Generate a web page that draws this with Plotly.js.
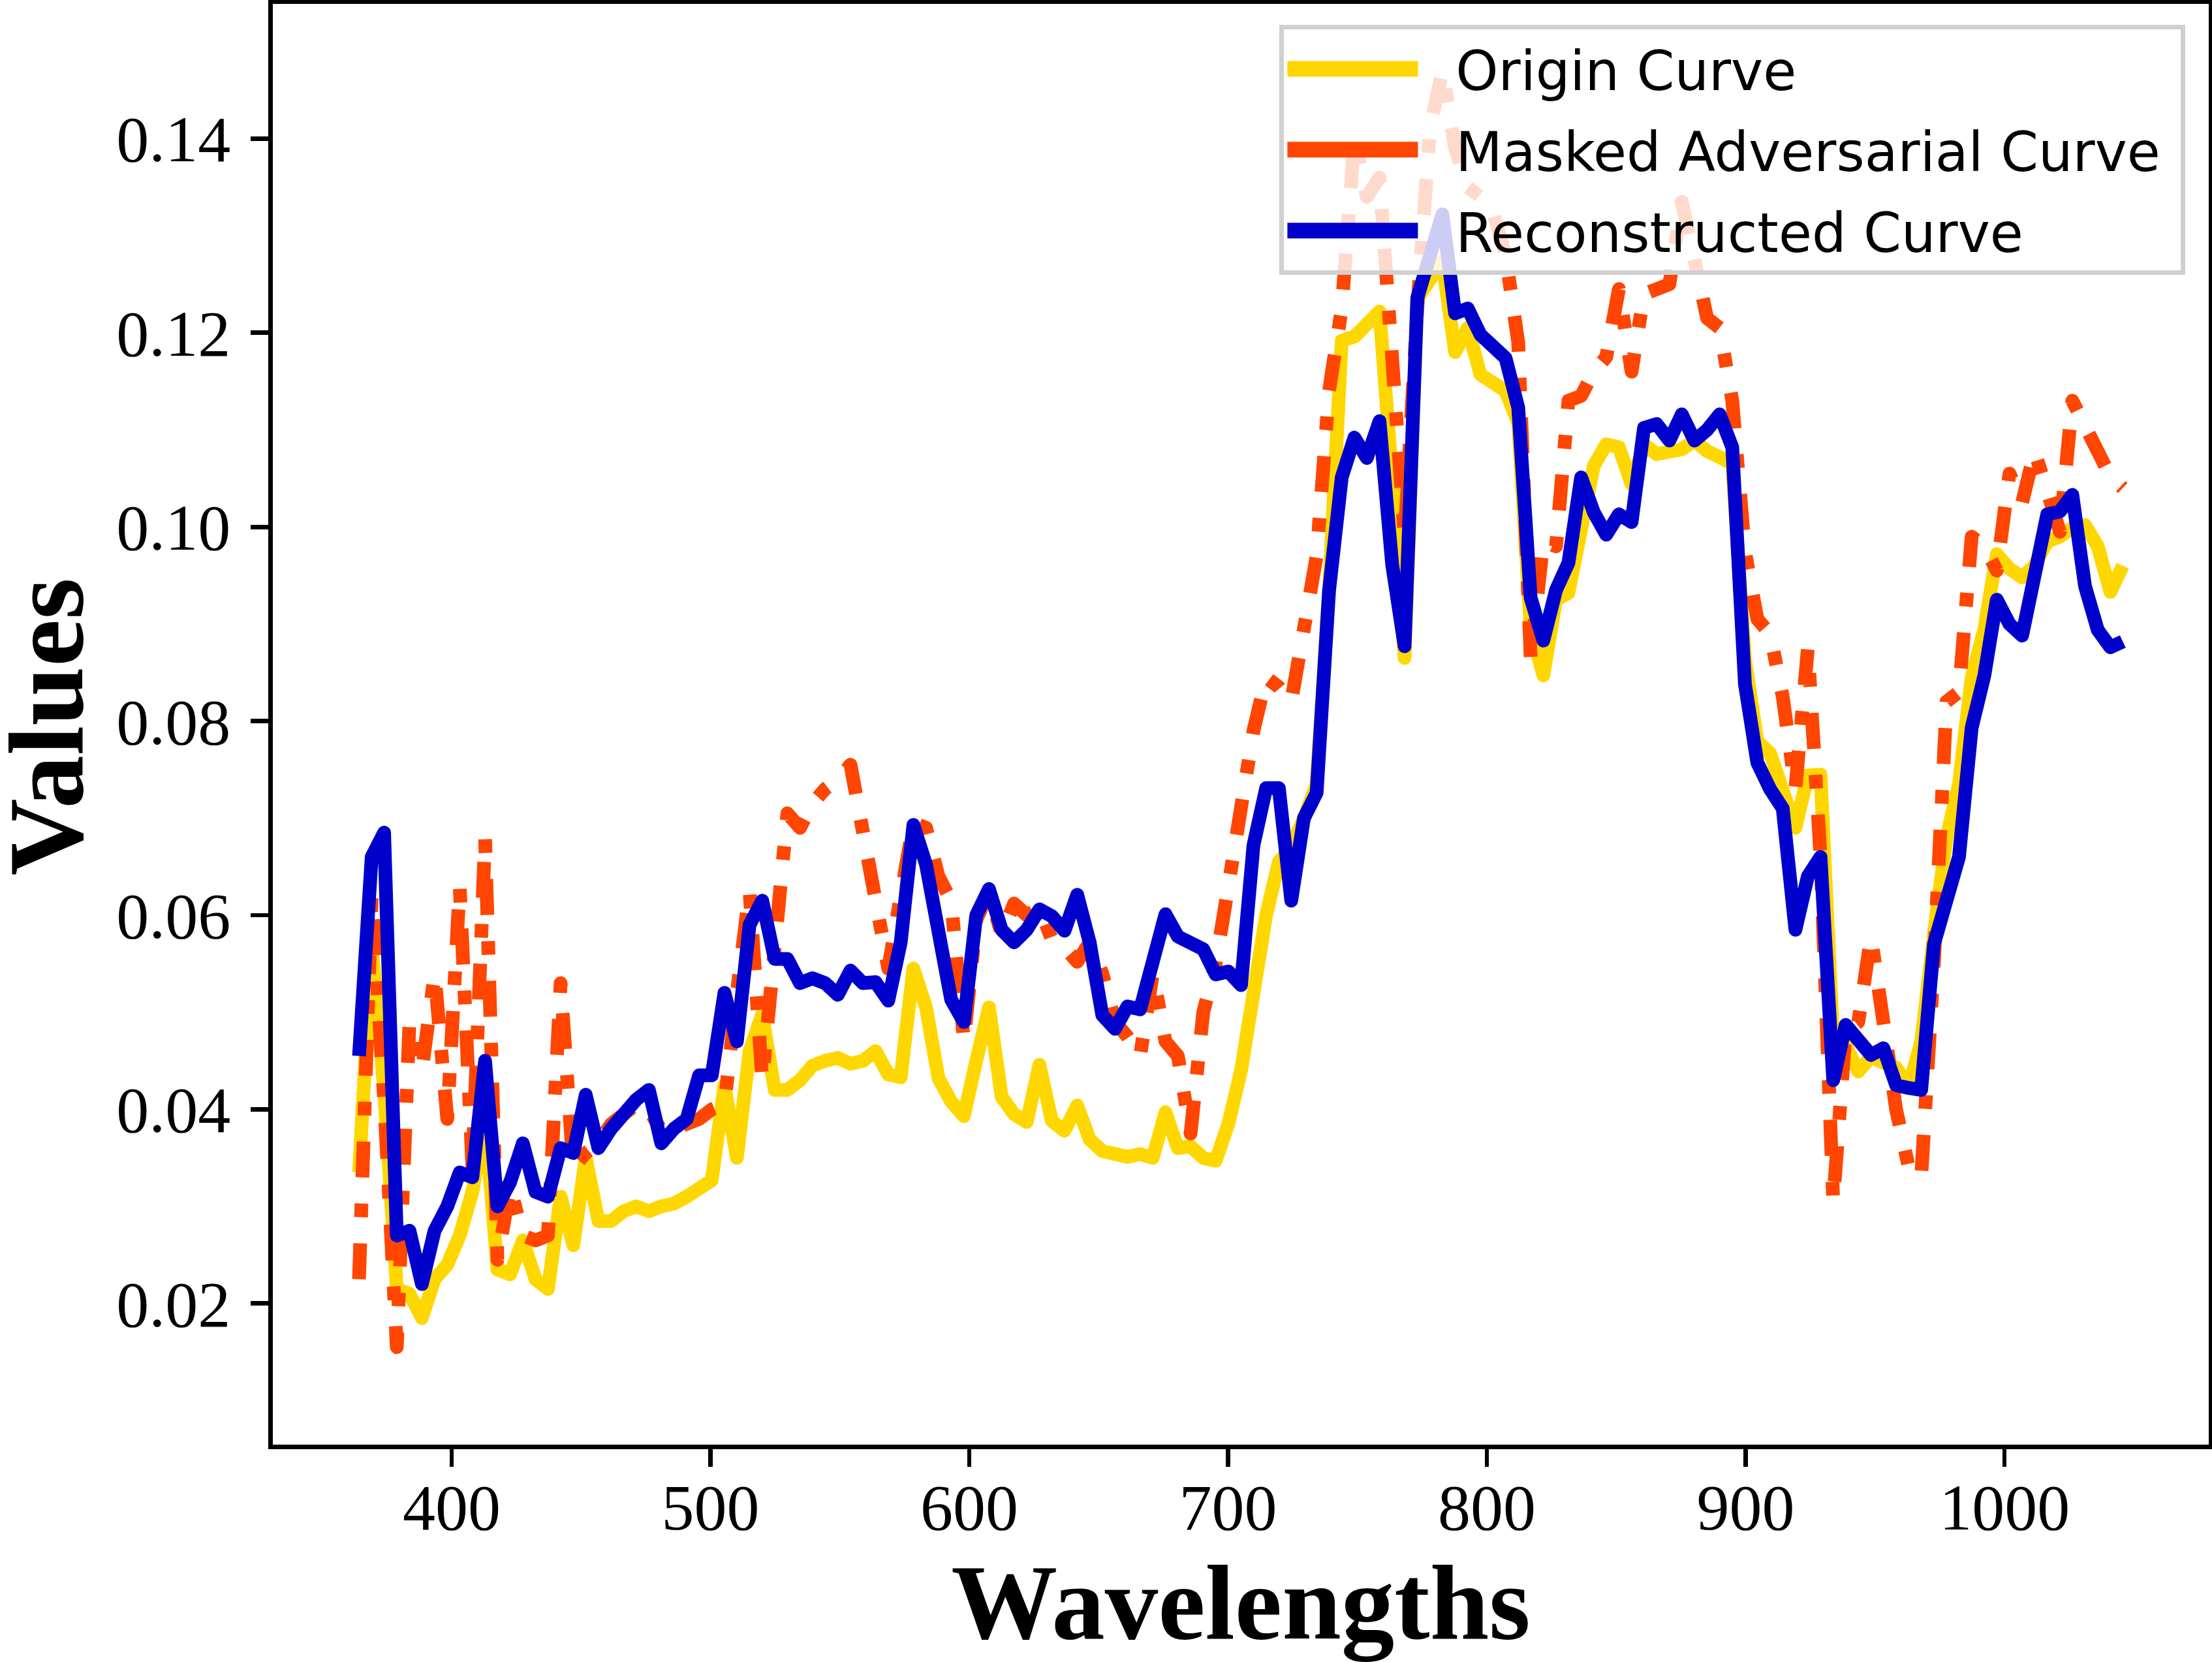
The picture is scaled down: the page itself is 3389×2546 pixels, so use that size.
<!DOCTYPE html>
<html>
<head>
<meta charset="utf-8">
<script src="https://cdn.plot.ly/plotly-3.0.1.min.js"></script>
<style>
html,body{margin:0;padding:0;background:#ffffff;}
#chart{width:3389px;height:2546px;}
.scatterlayer path.js-line{stroke-linejoin:round;}
.legend .legendlines path.js-line{stroke-width:24px !important;}
</style>
</head>
<body>
<div id="chart"></div>
<script>
const wavelengths = [364.2,369.1,373.9,378.8,383.7,388.5,393.4,398.3,403.1,408.0,
412.9,417.7,422.6,427.5,432.4,437.2,442.1,447.0,451.8,456.7,
461.6,466.4,471.3,476.2,481.0,485.9,490.8,495.6,500.5,505.4,
510.2,515.1,520.0,524.8,529.7,534.6,539.4,544.3,549.2,554.1,
558.9,563.8,568.7,573.5,578.4,583.3,588.1,593.0,597.9,602.7,
607.6,612.5,617.3,622.2,627.1,631.9,636.8,641.7,646.5,651.4,
656.3,661.1,666.0,670.9,675.8,680.6,685.5,690.4,695.2,700.1,
705.0,709.8,714.7,719.6,724.4,729.3,734.2,739.0,743.9,748.8,
753.6,758.5,763.4,768.2,773.1,778.0,782.8,787.7,792.6,797.5,
802.3,807.2,812.1,816.9,821.8,826.7,831.5,836.4,841.3,846.1,
851.0,855.9,860.7,865.6,870.5,875.3,880.2,885.1,889.9,894.8,
899.7,904.5,909.4,914.3,919.2,924.0,928.9,933.8,938.6,943.5,
948.4,953.2,958.1,963.0,967.8,972.7,977.6,982.4,987.3,992.2,
997.0,1001.9,1006.8,1011.6,1016.5,1021.4,1026.2,1031.1,1036.0,1040.9,
1045.7];

const originCurve = [0.0335,0.057,0.042,0.0215,0.021,0.0185,0.0225,0.024,0.027,0.0315,
0.039,0.0235,0.023,0.0265,0.0225,0.0215,0.031,0.026,0.035,0.0285,
0.0285,0.0295,0.030,0.0295,0.030,0.0303,0.031,0.032,0.0327,0.0425,
0.035,0.046,0.0498,0.042,0.042,0.043,0.0445,0.045,0.0453,0.0447,
0.045,0.046,0.0436,0.0433,0.0545,0.0505,0.0432,0.0408,0.0393,0.045,
0.0505,0.0413,0.0395,0.0387,0.0446,0.0388,0.0378,0.0404,0.0369,0.0357,
0.0353,0.0351,0.0354,0.035,0.0397,0.036,0.0362,0.035,0.0347,0.0385,
0.044,0.052,0.060,0.0655,0.067,0.070,0.0735,0.0935,0.1192,0.1196,
0.121,0.1222,0.105,0.0865,0.1235,0.1255,0.1274,0.118,0.1205,0.1157,
0.115,0.114,0.1107,0.0895,0.0847,0.0925,0.0932,0.100,0.1063,0.1085,
0.1082,0.1044,0.1085,0.1075,0.1078,0.108,0.1089,0.1078,0.1072,0.1065,
0.0864,0.0779,0.0767,0.0732,0.069,0.0744,0.0745,0.047,0.0466,0.0439,
0.0454,0.0448,0.0443,0.0423,0.047,0.058,0.068,0.0735,0.0845,0.0895,
0.0972,0.0957,0.0948,0.096,0.0985,0.099,0.0999,0.1002,0.098,0.0933,
0.096];

const maskedAdversarialCurve = [0.0225,0.062,0.041,0.0155,0.049,0.044,0.054,0.039,0.063,0.034,
0.068,0.0245,0.032,0.027,0.0265,0.027,0.053,0.034,0.0355,0.0365,
0.0385,0.0395,0.0405,0.040,0.0378,0.038,0.0385,0.039,0.040,0.0405,
0.052,0.0625,0.043,0.058,0.0705,0.069,0.0715,0.073,0.074,0.0755,
0.068,0.061,0.0545,0.062,0.0695,0.069,0.064,0.0615,0.047,0.0595,
0.0625,0.058,0.0612,0.060,0.0608,0.0575,0.0567,0.0552,0.0572,0.054,
0.049,0.0475,0.0455,0.054,0.047,0.0455,0.0375,0.050,0.055,0.063,
0.071,0.079,0.0845,0.0835,0.082,0.090,0.097,0.114,0.1225,0.140,
0.134,0.136,0.118,0.099,0.1225,0.141,0.147,0.139,0.135,0.134,
0.1325,0.128,0.119,0.0865,0.0985,0.098,0.113,0.1135,0.116,0.1175,
0.1245,0.116,0.124,0.1245,0.125,0.1335,0.127,0.1215,0.1205,0.113,
0.0975,0.0905,0.089,0.0825,0.073,0.0875,0.066,0.0305,0.048,0.049,
0.0578,0.049,0.040,0.034,0.033,0.055,0.082,0.083,0.099,0.098,
0.0955,0.1055,0.1025,0.1078,0.104,0.0995,0.113,0.1105,0.1075,0.1052,
0.104];

const reconstructedCurve = [0.0455,0.066,0.0685,0.027,0.0275,0.022,0.0275,0.030,0.0335,0.033,
0.045,0.030,0.0325,0.0365,0.0315,0.031,0.036,0.0355,0.0415,0.036,
0.038,0.0395,0.041,0.042,0.0365,0.038,0.039,0.0435,0.0435,0.052,
0.047,0.059,0.0615,0.0555,0.0555,0.053,0.0535,0.053,0.0518,0.0543,
0.053,0.0531,0.0512,0.0572,0.0693,0.0652,0.058,0.0513,0.049,0.060,
0.0627,0.0585,0.0572,0.0585,0.0606,0.0599,0.0584,0.0621,0.0572,0.0497,
0.0483,0.0506,0.0503,0.0553,0.0601,0.0578,0.0572,0.0565,0.0539,0.0542,
0.0528,0.0672,0.0731,0.0731,0.0615,0.070,0.0726,0.0934,0.1051,0.1092,
0.1071,0.1109,0.0961,0.0877,0.1236,0.1277,0.1322,0.122,0.1225,0.1198,
0.1185,0.1174,0.1123,0.0927,0.0883,0.0935,0.0963,0.1051,0.1015,0.0992,
0.1013,0.1005,0.1102,0.1106,0.1089,0.1116,0.1089,0.110,0.1116,0.1082,
0.0838,0.0757,0.073,0.071,0.0585,0.064,0.066,0.043,0.0487,0.047,
0.0456,0.0463,0.0425,0.0422,0.042,0.057,0.061,0.066,0.0793,0.0847,
0.0925,0.090,0.0888,0.0945,0.1013,0.1016,0.1033,0.0939,0.0894,0.0876,
0.0882];

const seriesNames = ['Origin Curve', 'Masked Adversarial Curve', 'Reconstructed Curve'];
const seriesColors = ['#FFD700', '#FF4500', '#0000CD'];
const xTickValues = [400, 500, 600, 700, 800, 900, 1000];
const xTickLabels = ['400', '500', '600', '700', '800', '900', '1000'];
const yTickValues = [0.02, 0.04, 0.06, 0.08, 0.10, 0.12, 0.14];
const yTickLabels = ['0.02', '0.04', '0.06', '0.08', '0.10', '0.12', '0.14'];
const xAxisTitle = 'Wavelengths';
const yAxisTitle = 'Values';

const LW = 21;
const NB = '\u00A0';
const legendLabel = (s) => NB + NB + s + NB;
const titleFont = {family: 'Liberation Serif, Times New Roman, serif', size: 163, weight: 700, color: '#000'};

const traces = [
  {x: wavelengths, y: originCurve, type: 'scatter', mode: 'lines', name: legendLabel(seriesNames[0]),
   legendgroup: 'g1', line: {color: seriesColors[0], width: LW}, hoverinfo: 'skip'},
  {x: wavelengths, y: maskedAdversarialCurve, type: 'scatter', mode: 'lines', name: legendLabel(seriesNames[1]),
   legendgroup: 'g2', line: {color: seriesColors[1], width: LW, dash: '55px,40px,21px,40px'},
   showlegend: false, hoverinfo: 'skip'},
  {x: [null], y: [null], type: 'scatter', mode: 'lines', name: legendLabel(seriesNames[1]),
   legendgroup: 'g2', line: {color: seriesColors[1], width: LW}, hoverinfo: 'skip'},
  {x: wavelengths, y: reconstructedCurve, type: 'scatter', mode: 'lines', name: legendLabel(seriesNames[2]),
   legendgroup: 'g3', line: {color: seriesColors[2], width: LW}, hoverinfo: 'skip'}
];

const axisCommon = {
  ticks: 'outside', ticklen: 27, tickwidth: 6.7, tickcolor: '#000',
  showline: true, linewidth: 6.7, linecolor: '#000', mirror: true,
  showgrid: false, zeroline: false, automargin: false,
  tickfont: {family: 'Liberation Serif, Times New Roman, serif', size: 100, color: '#000'}
};

const layout = {
  width: 3389, height: 2546,
  margin: {l: 418, r: 5, t: 6, b: 333, pad: 0},
  paper_bgcolor: '#ffffff', plot_bgcolor: '#ffffff',
  showlegend: true,
  xaxis: Object.assign({}, axisCommon, {
    range: [330.9, 1078.9],
    tickmode: 'array', tickvals: xTickValues, ticktext: xTickLabels,
    ticklabelstandoff: -24,
    title: {text: xAxisTitle, standoff: 32, font: titleFont}
  }),
  yaxis: Object.assign({}, axisCommon, {
    range: [0.00546, 0.15388],
    tickmode: 'array', tickvals: yTickValues, ticktext: yTickLabels,
    ticklabelstandoff: 11,
    title: {text: ''}
  }),
  annotations: [{
    text: yAxisTitle, xref: 'paper', yref: 'paper', x: -0.1172, y: 0.4985,
    xanchor: 'center', yanchor: 'middle', textangle: -90, showarrow: false,
    font: titleFont
  }],
  legend: {
    x: 0.988, xanchor: 'right', y: 0.9855, yanchor: 'top',
    bgcolor: 'rgba(255,255,255,0.8)', bordercolor: '#d0d0d0', borderwidth: 7,
    font: {family: 'DejaVu Sans', size: 83, color: '#000'},
    itemwidth: 200, traceorder: 'grouped', tracegroupgap: 13
  }
};

Plotly.newPlot('chart', traces, layout, {displayModeBar: false, staticPlot: true});
</script>
</body>
</html>
